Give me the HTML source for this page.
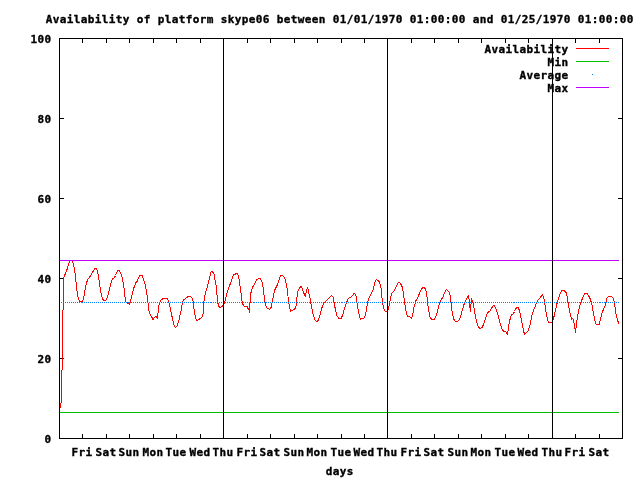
<!DOCTYPE html>
<html><head><meta charset="utf-8"><title>Availability of platform skype06</title>
<style>
html,body{margin:0;padding:0;background:#fff;}
body{width:640px;height:480px;overflow:hidden;}
svg{display:block;}
text{font-family:"DejaVu Sans Mono","Liberation Mono",monospace;font-size:11px;font-weight:bold;fill:#000;stroke:#000;stroke-width:0.35px;letter-spacing:0.3774px;white-space:pre;}
.l{shape-rendering:crispEdges;fill:none;stroke-width:1;}
</style></head><body>
<svg width="640" height="480" viewBox="0 0 640 480">
<rect width="640" height="480" fill="#fff"/>

<rect class="l" x="59.5" y="38.5" width="563" height="400" stroke="#000"/>
<path class="l" stroke="#000" d="M59 438.5h5M623 438.5h-5M59 358.5h5M623 358.5h-5M59 278.5h5M623 278.5h-5M59 198.5h5M623 198.5h-5M59 118.5h5M623 118.5h-5M59 38.5h5M623 38.5h-5M82.5 439v-5M82.5 38v5M106.5 439v-5M106.5 38v5M129.5 439v-5M129.5 38v5M153.5 439v-5M153.5 38v5M176.5 439v-5M176.5 38v5M200.5 439v-5M200.5 38v5M223.5 439v-5M223.5 38v5M247.5 439v-5M247.5 38v5M270.5 439v-5M270.5 38v5M294.5 439v-5M294.5 38v5M317.5 439v-5M317.5 38v5M341.5 439v-5M341.5 38v5M364.5 439v-5M364.5 38v5M387.5 439v-5M387.5 38v5M411.5 439v-5M411.5 38v5M434.5 439v-5M434.5 38v5M458.5 439v-5M458.5 38v5M481.5 439v-5M481.5 38v5M505.5 439v-5M505.5 38v5M528.5 439v-5M528.5 38v5M552.5 439v-5M552.5 38v5M575.5 439v-5M575.5 38v5M599.5 439v-5M599.5 38v5"/>
<text x="44.6" y="443">0</text>
<text x="37.6" y="363">20</text>
<text x="37.6" y="283">40</text>
<text x="37.6" y="203">60</text>
<text x="37.6" y="123">80</text>
<text x="30.6" y="43">100</text>
<text x="71.5" y="456">Fri</text>
<text x="95.5" y="456">Sat</text>
<text x="118.5" y="456">Sun</text>
<text x="142.5" y="456">Mon</text>
<text x="165.5" y="456">Tue</text>
<text x="189.5" y="456">Wed</text>
<text x="212.5" y="456">Thu</text>
<text x="236.5" y="456">Fri</text>
<text x="259.5" y="456">Sat</text>
<text x="283.5" y="456">Sun</text>
<text x="306.5" y="456">Mon</text>
<text x="330.5" y="456">Tue</text>
<text x="353.5" y="456">Wed</text>
<text x="376.5" y="456">Thu</text>
<text x="400.5" y="456">Fri</text>
<text x="423.5" y="456">Sat</text>
<text x="447.5" y="456">Sun</text>
<text x="470.5" y="456">Mon</text>
<text x="494.5" y="456">Tue</text>
<text x="517.5" y="456">Wed</text>
<text x="541.5" y="456">Thu</text>
<text x="564.5" y="456">Fri</text>
<text x="588.5" y="456">Sat</text>
<text x="325.7" y="475">days</text>
<text x="45.8" y="23">Availability of platform skype06 between 01/01/1970 01:00:00 and 01/25/1970 01:00:00</text>
<text x="484.6" y="53">Availability</text>
<path class="l" stroke="#ff0000" d="M576 48.5H609"/>
<text x="547.6" y="66">Min</text>
<path class="l" stroke="#00c000" d="M576 61.5H609"/>
<text x="519.6" y="79">Average</text>
<rect x="592" y="74" width="1" height="1" fill="#0080ff"/>
<text x="547.6" y="92">Max</text>
<path class="l" stroke="#c000ff" d="M576 87.5H609"/>
<polyline class="l" stroke="#ff0000" stroke-linejoin="round" points="60.0,408.0 60.0,403.0 61.0,403.0 61.0,370.0 62.0,370.0 62.0,310.0 63.0,310.0 63.0,278.5 64.5,276.0 65.5,273.0 66.5,271.0 67.5,268.0 68.5,264.0 69.5,261.7 70.5,260.5 71.5,260.5 72.5,262.0 73.5,264.5 74.5,269.0 75.5,276.0 76.5,287.0 77.5,295.5 78.5,299.0 79.5,301.2 82.6,301.3 83.5,299.0 84.5,294.0 85.3,288.0 86.5,283.0 87.5,280.0 89.0,278.0 90.5,276.0 91.5,274.0 92.5,272.2 93.5,270.7 94.5,269.2 95.5,268.2 96.5,268.8 97.5,271.2 98.5,276.0 99.5,283.5 100.5,291.0 101.6,296.0 103.2,300.0 105.7,300.2 107.5,297.2 108.5,293.0 109.5,289.7 110.5,285.0 111.5,281.5 112.5,279.0 113.5,278.3 114.5,277.5 115.5,275.5 116.5,273.0 117.5,271.2 118.5,270.2 119.5,271.0 120.5,272.7 121.5,274.7 122.5,278.5 123.5,285.0 124.5,291.5 125.4,301.0 126.6,302.5 129.5,304.1 130.7,301.0 131.7,296.0 132.5,292.5 133.5,289.0 134.5,286.0 135.5,284.0 136.0,282.6 137.2,281.4 139.1,276.4 141.0,274.9 142.5,276.0 143.7,280.1 145.4,285.1 146.6,292.0 148.1,303.2 149.1,312.0 151.0,315.7 153.2,319.7 154.7,317.0 156.0,316.0 157.2,318.2 158.2,311.4 159.1,303.9 160.4,300.7 163.5,298.2 166.6,298.2 168.2,300.1 169.7,305.7 171.6,314.5 173.5,323.7 174.7,326.5 175.7,327.5 177.0,326.2 178.5,321.9 179.7,316.9 181.0,310.7 182.5,302.6 183.5,300.1 185.4,298.5 187.9,296.7 190.0,296.0 191.6,297.2 192.9,300.1 193.7,307.0 195.4,317.0 196.6,320.5 198.5,319.7 202.0,317.0 203.5,312.0 204.1,299.5 205.4,293.2 207.2,287.0 209.7,277.0 211.2,271.4 212.9,272.2 214.5,274.5 215.4,284.5 216.0,285.1 217.0,294.5 217.9,303.2 219.5,308.0 221.6,306.7 223.5,305.1 224.7,302.0 226.6,294.5 228.5,288.2 231.0,282.0 233.5,274.5 235.4,274.1 237.2,273.2 238.5,275.7 239.7,283.2 241.0,293.2 242.2,302.0 243.5,306.0 247.2,306.4 248.2,309.5 248.7,308.2 249.5,312.6 250.0,303.2 251.2,290.7 252.5,287.6 254.1,284.5 256.6,279.5 259.7,278.2 261.2,280.1 262.5,283.2 263.5,290.7 265.0,302.0 266.6,308.0 269.7,309.5 271.0,307.6 272.2,302.0 273.5,295.1 274.7,290.1 277.2,285.1 278.5,282.0 280.4,276.0 282.0,274.9 284.1,277.0 285.7,280.7 287.2,289.5 288.5,300.7 289.7,308.2 290.6,311.4 292.2,310.1 294.5,309.7 296.0,306.2 296.6,300.0 297.5,292.5 299.1,288.7 301.2,286.2 302.9,290.6 305.4,296.9 306.6,290.0 307.5,287.2 308.5,291.2 310.4,300.0 311.6,307.5 313.5,316.2 315.4,320.6 317.0,321.5 318.5,320.0 320.4,313.7 322.5,305.6 324.1,302.7 326.6,300.6 329.7,297.5 331.6,295.2 332.9,296.9 334.1,302.5 335.7,311.2 337.2,316.2 339.1,318.5 341.0,318.5 342.5,315.6 344.1,310.0 346.0,304.4 347.5,300.0 349.1,297.7 351.0,296.9 354.5,293.1 356.0,295.6 357.0,302.5 358.2,310.0 359.5,316.2 360.4,319.4 361.6,318.1 364.1,318.1 365.4,315.0 366.6,308.7 367.9,301.2 368.7,298.7 371.0,294.4 372.9,290.6 374.5,283.7 376.0,279.7 377.9,280.2 379.7,282.5 381.0,287.5 382.0,297.5 383.2,306.2 384.5,311.0 386.6,311.2 388.1,309.4 389.5,303.7 390.7,296.9 391.6,293.7 394.1,290.6 396.6,285.6 398.7,282.2 400.4,283.1 402.2,286.9 403.5,293.7 405.0,305.0 406.2,312.5 407.5,316.5 409.1,316.2 411.6,318.1 412.9,313.7 414.1,306.9 415.7,301.2 417.9,296.9 419.7,293.1 421.6,288.7 423.2,287.2 425.4,288.7 426.6,292.5 427.5,302.5 428.5,310.0 430.0,316.9 431.6,319.4 434.1,319.4 436.0,316.2 437.2,312.5 438.7,306.2 440.4,301.2 442.9,296.9 445.0,291.9 446.6,289.4 448.5,291.2 450.4,295.6 451.2,303.7 452.2,312.5 453.5,318.7 455.0,321.2 456.0,321.2 457.9,321.2 459.5,319.0 460.5,316.5 461.5,313.0 462.5,309.5 463.5,306.0 464.5,303.2 465.5,301.2 466.5,299.0 467.5,297.0 468.4,295.5 469.1,300.0 469.7,306.2 470.5,311.2 471.0,303.7 471.5,298.5 472.9,302.5 474.1,308.7 475.4,316.2 477.0,323.1 478.7,327.5 480.4,328.5 482.2,327.5 483.7,323.7 484.6,321.0 485.5,318.5 486.5,315.5 487.5,313.0 488.5,311.7 489.5,311.5 490.5,310.0 491.5,308.2 492.5,306.7 493.5,305.2 494.5,306.2 495.5,308.0 496.6,310.5 498.5,316.9 500.0,323.1 501.6,328.1 503.5,331.5 505.4,331.2 507.2,334.4 507.7,333.0 508.5,327.0 509.5,321.5 510.5,317.5 511.5,315.0 512.5,314.2 513.5,313.5 514.5,311.5 515.5,309.0 516.5,307.7 518.4,307.7 519.5,311.0 520.5,315.5 521.5,320.5 522.5,325.5 523.5,330.5 524.5,334.4 526.0,332.7 528.2,330.6 529.7,326.2 531.0,320.0 532.5,313.1 534.1,308.7 536.0,304.4 537.2,301.2 539.7,298.1 542.5,294.4 543.7,297.5 545.0,305.0 546.2,313.7 547.9,320.6 549.1,322.5 551.6,322.5 553.2,320.0 554.7,313.7 556.6,305.0 558.5,298.1 560.4,292.5 562.0,290.4 564.1,290.6 566.0,292.5 567.2,296.2 568.4,305.0 569.5,310.5 570.5,315.0 571.5,319.3 572.5,318.5 573.5,319.5 574.5,325.5 575.5,333.0 576.5,324.0 577.5,317.0 578.5,311.5 579.5,306.5 581.0,301.9 582.9,297.5 584.7,293.5 586.6,293.1 588.5,295.6 590.4,299.4 592.0,305.0 593.5,313.7 595.0,321.2 596.2,324.4 599.1,324.4 600.4,320.0 601.6,313.7 603.5,309.4 605.4,305.6 606.6,298.7 608.2,296.5 611.6,296.5 613.5,298.7 614.7,303.1 615.5,312.5 618.6,323.6"/>
<path class="l" stroke="#00c000" d="M60 412.5H619"/>
<path class="l" stroke="#0080ff" d="M61 302.5h1M63 302.5h1M65 302.5h1M67 302.5h1M69 302.5h1M71 302.5h1M73 302.5h1M75 302.5h1M77 302.5h1M79 302.5h1M81 302.5h1M82 302.5h1M84 302.5h1M86 302.5h1M88 302.5h1M90 302.5h1M92 302.5h1M94 302.5h1M96 302.5h1M98 302.5h1M100 302.5h1M102 302.5h1M104 302.5h1M106 302.5h1M108 302.5h1M110 302.5h1M112 302.5h1M114 302.5h1M116 302.5h1M118 302.5h1M120 302.5h1M122 302.5h1M124 302.5h1M126 302.5h1M128 302.5h1M129 302.5h1M131 302.5h1M133 302.5h1M135 302.5h1M137 302.5h1M139 302.5h1M141 302.5h1M143 302.5h1M145 302.5h1M147 302.5h1M149 302.5h1M151 302.5h1M153 302.5h1M155 302.5h1M157 302.5h1M159 302.5h1M161 302.5h1M163 302.5h1M165 302.5h1M167 302.5h1M168 302.5h1M170 302.5h1M172 302.5h1M174 302.5h1M176 302.5h1M178 302.5h1M180 302.5h1M182 302.5h1M184 302.5h1M186 302.5h1M188 302.5h1M190 302.5h1M192 302.5h1M194 302.5h1M196 302.5h1M198 302.5h1M200 302.5h1M202 302.5h1M204 302.5h1M206 302.5h1M208 302.5h1M210 302.5h1M211 302.5h1M213 302.5h1M215 302.5h1M217 302.5h1M219 302.5h1M221 302.5h1M223 302.5h1M225 302.5h1M227 302.5h1M229 302.5h1M231 302.5h1M233 302.5h1M235 302.5h1M237 302.5h1M239 302.5h1M241 302.5h1M243 302.5h1M245 302.5h1M247 302.5h1M249 302.5h1M251 302.5h1M253 302.5h1M254 302.5h1M256 302.5h1M258 302.5h1M260 302.5h1M262 302.5h1M264 302.5h1M266 302.5h1M268 302.5h1M270 302.5h1M272 302.5h1M274 302.5h1M276 302.5h1M278 302.5h1M280 302.5h1M282 302.5h1M284 302.5h1M286 302.5h1M288 302.5h1M290 302.5h1M292 302.5h1M294 302.5h1M296 302.5h1M297 302.5h1M299 302.5h1M301 302.5h1M303 302.5h1M305 302.5h1M307 302.5h1M309 302.5h1M311 302.5h1M313 302.5h1M315 302.5h1M317 302.5h1M319 302.5h1M321 302.5h1M323 302.5h1M325 302.5h1M327 302.5h1M329 302.5h1M331 302.5h1M333 302.5h1M335 302.5h1M337 302.5h1M339 302.5h1M341 302.5h1M342 302.5h1M344 302.5h1M346 302.5h1M348 302.5h1M350 302.5h1M352 302.5h1M354 302.5h1M356 302.5h1M358 302.5h1M360 302.5h1M362 302.5h1M364 302.5h1M366 302.5h1M368 302.5h1M370 302.5h1M372 302.5h1M374 302.5h1M376 302.5h1M378 302.5h1M380 302.5h1M382 302.5h1M384 302.5h1M385 302.5h1M387 302.5h1M389 302.5h1M391 302.5h1M393 302.5h1M395 302.5h1M397 302.5h1M399 302.5h1M401 302.5h1M403 302.5h1M405 302.5h1M407 302.5h1M409 302.5h1M411 302.5h1M413 302.5h1M415 302.5h1M417 302.5h1M419 302.5h1M421 302.5h1M423 302.5h1M425 302.5h1M427 302.5h1M428 302.5h1M430 302.5h1M432 302.5h1M434 302.5h1M436 302.5h1M438 302.5h1M440 302.5h1M442 302.5h1M444 302.5h1M446 302.5h1M448 302.5h1M450 302.5h1M452 302.5h1M454 302.5h1M456 302.5h1M458 302.5h1M460 302.5h1M462 302.5h1M464 302.5h1M466 302.5h1M468 302.5h1M470 302.5h1M471 302.5h1M473 302.5h1M475 302.5h1M477 302.5h1M479 302.5h1M481 302.5h1M483 302.5h1M485 302.5h1M487 302.5h1M489 302.5h1M491 302.5h1M493 302.5h1M495 302.5h1M497 302.5h1M499 302.5h1M501 302.5h1M503 302.5h1M505 302.5h1M507 302.5h1M509 302.5h1M511 302.5h1M513 302.5h1M514 302.5h1M516 302.5h1M518 302.5h1M520 302.5h1M522 302.5h1M524 302.5h1M526 302.5h1M528 302.5h1M530 302.5h1M532 302.5h1M534 302.5h1M536 302.5h1M538 302.5h1M540 302.5h1M542 302.5h1M544 302.5h1M546 302.5h1M548 302.5h1M550 302.5h1M552 302.5h1M554 302.5h1M556 302.5h1M557 302.5h1M559 302.5h1M561 302.5h1M563 302.5h1M565 302.5h1M567 302.5h1M569 302.5h1M571 302.5h1M573 302.5h1M575 302.5h1M577 302.5h1M579 302.5h1M581 302.5h1M583 302.5h1M585 302.5h1M587 302.5h1M589 302.5h1M591 302.5h1M593 302.5h1M595 302.5h1M597 302.5h1M599 302.5h1M600 302.5h1M602 302.5h1M604 302.5h1M606 302.5h1M608 302.5h1M610 302.5h1M612 302.5h1M614 302.5h1M616 302.5h1M618 302.5h1"/>
<path class="l" stroke="#c000ff" d="M60 260.5H619"/>
<path class="l" stroke="#000" d="M223.5 38V439"/>
<path class="l" stroke="#000" d="M387.5 38V439"/>
<path class="l" stroke="#000" d="M552.5 38V439"/>
</svg></body></html>
